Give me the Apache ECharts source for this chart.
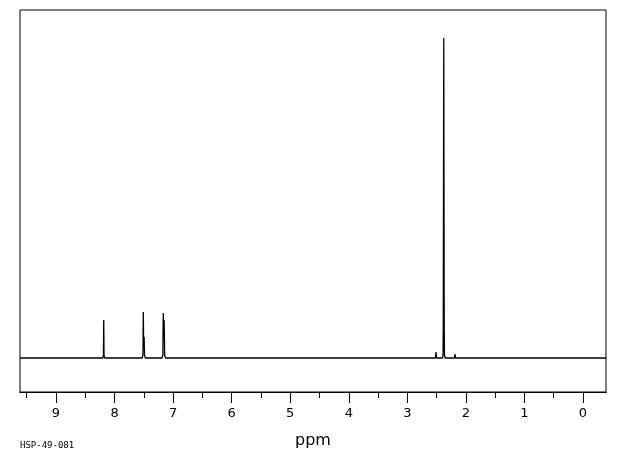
<!DOCTYPE html>
<html>
<head>
<meta charset="utf-8">
<script src="https://cdn.jsdelivr.net/npm/echarts@6/dist/echarts.min.js"></script>
<style>html,body{margin:0;padding:0;background:#fff;}#c{width:620px;height:455px;}</style>
</head>
<body>
<div id="c"></div>
<script>
// Chemical shift (ppm) and intensity
const shiftPpm = [9.615, 8.20, 8.19, 8.185, 8.18, 8.17,
  7.53, 7.515, 7.509, 7.503, 7.495, 7.488, 7.475,
  7.19, 7.175, 7.168, 7.162, 7.153, 7.145, 7.13,
  2.52, 2.511, 2.502,
  2.40, 2.39, 2.386, 2.378, 2.37, 2.366, 2.355,
  2.195, 2.186, 2.177,
  -0.393];
const intensity = [0, 0, 3, 38, 3, 0,
  0, 3, 46, 12, 21, 3, 0,
  0, 3, 45, 30, 38, 3, 0,
  0, 6, 0,
  0, 3, 34, 320, 34, 3, 0,
  0, 4, 0,
  0];
const majorTicks = [9, 8, 7, 6, 5, 4, 3, 2, 1, 0];
const minorTicks = [9.5, 8.5, 7.5, 6.5, 5.5, 4.5, 3.5, 2.5, 1.5, 0.5];
const axisName = 'ppm';
const sampleId = 'HSP-49-081';

const data = shiftPpm.map((x, i) => [x, intensity[i]]);
const chart = echarts.init(document.getElementById('c'), null, {renderer: 'canvas'});
const baseX = {
  type: 'value', min: -0.393, max: 9.615, inverse: true, position: 'bottom',
  splitLine: {show: false}, axisLine: {show: true, onZero: false, lineStyle: {color: '#000', width: 1}}
};
chart.setOption({
  animation: false,
  backgroundColor: '#fff',
  grid: {left: 20, right: 14, top: 10, bottom: 63, show: true, borderColor: '#000', borderWidth: 1,
    containLabel: false, outerBoundsMode: 'none'},
  graphic: [{type: 'text', left: 20, top: 441, style: {text: sampleId, font: '9px "DejaVu Sans Mono", monospace', fill: '#000'}}],
  xAxis: [
    Object.assign({}, baseX, {
      axisTick: {show: true, length: 11, lineStyle: {color: '#000'}, customValues: majorTicks},
      axisLabel: {show: true, customValues: majorTicks, color: '#000', fontSize: 13, fontFamily: 'DejaVu Sans', margin: 15,
        formatter: v => String(Math.round(v))},
      name: axisName, nameLocation: 'middle', nameGap: 41,
      nameTextStyle: {color: '#000', fontSize: 16, fontFamily: 'DejaVu Sans'}
    }),
    Object.assign({}, baseX, {
      axisTick: {show: true, length: 6, lineStyle: {color: '#000'}, customValues: minorTicks},
      axisLabel: {show: false}
    })
  ],
  yAxis: {type: 'value', min: -34, max: 348, show: false, splitLine: {show: false}},
  series: [{
    type: 'line', data: data, showSymbol: false, symbol: 'none', xAxisIndex: 0,
    lineStyle: {color: '#000', width: 1.3}, silent: true
  }]
});
</script>
</body>
</html>
